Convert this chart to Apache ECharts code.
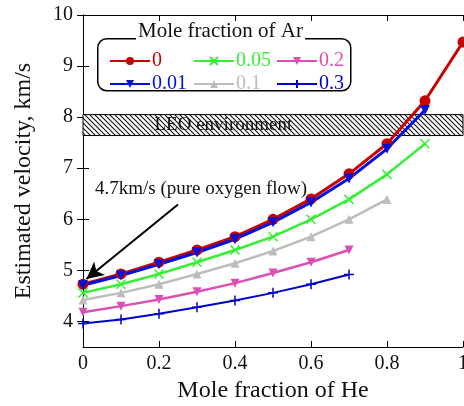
<!DOCTYPE html>
<html><head><meta charset="utf-8">
<script src="https://cdn.jsdelivr.net/npm/echarts@6/dist/echarts.min.js"></script>
<style>html,body{margin:0;padding:0;background:#fff}#c{width:464px;height:406px}</style>
</head><body><div id="c"></div>
<script>
// Data
var heFraction = [0, 0.1, 0.2, 0.3, 0.4, 0.5, 0.6, 0.7, 0.8, 0.9, 1.0];
var arNames = ['0', '0.01', '0.05', '0.1', '0.2', '0.3'];
var vAr0    = [4.73, 4.93, 5.16, 5.40, 5.66, 6.00, 6.40, 6.89, 7.48, 8.32, 9.47];
var vAr001  = [4.71, 4.90, 5.12, 5.35, 5.61, 5.94, 6.33, 6.80, 7.38, 8.14];
var vAr005  = [4.56, 4.73, 4.93, 5.16, 5.40, 5.66, 6.00, 6.39, 6.88, 7.48];
var vAr01   = [4.42, 4.56, 4.73, 4.93, 5.14, 5.38, 5.66, 6.00, 6.39];
var vAr02   = [4.18, 4.30, 4.43, 4.58, 4.75, 4.95, 5.16, 5.40];
var vAr03   = [3.96, 4.04, 4.15, 4.28, 4.41, 4.56, 4.73, 4.92];
var yTicks = [4, 5, 6, 7, 8, 9, 10];
var leoBand = [7.64, 8.05];
var arrowFrom = [0.25, 6.29];
var arrowTo = [0.009, 4.83];

var colors = ['#c80000', '#0010dd', '#33f033', '#bdbdbd', '#dd4fb4', '#0000d0'];
var symbols = ['circle', 'triangle', 'path://M0,0L10,10M10,0L0,10', 'triangle', 'triangle', 'path://M5,0L5,10M0,5L10,5'];
var rotates = [0, 180, 0, 0, 180, 0];
var sizes = [11, 10, 9, 9, 9, 10];
var widths = [3, 3, 2.5, 2.5, 2.5, 2];
var allVals = [vAr0, vAr001, vAr005, vAr01, vAr02, vAr03];

var FONT = '"Liberation Serif", "DejaVu Serif", serif';

// hatch pattern
var pc = document.createElement('canvas');
pc.width = 5; pc.height = 5;
var g = pc.getContext('2d');
g.fillStyle = '#fff'; g.fillRect(0, 0, 5, 5);
g.strokeStyle = '#111'; g.lineWidth = 1.1;
g.beginPath();
g.moveTo(-1, -1); g.lineTo(6, 6);
g.moveTo(-1, 4); g.lineTo(1, 6);
g.moveTo(4, -1); g.lineTo(6, 1);
g.stroke();

var series = arNames.map(function (n, i) {
  var s = {
    name: n, type: 'line',
    data: allVals[i].map(function (v, k) { return [heFraction[k], v]; }),
    symbol: symbols[i], symbolSize: sizes[i], symbolRotate: rotates[i],
    showAllSymbol: true,
    lineStyle: { color: colors[i], width: widths[i] },
    itemStyle: { color: colors[i], borderColor: colors[i], borderWidth: (i === 2 || i === 5) ? 1.5 : 0 },
    clip: false
  };
  if (i === 0) {
    s.markArea = {
      silent: true,
      itemStyle: { color: { image: pc, repeat: 'repeat' }, borderColor: '#000', borderWidth: 1 },
      label: { show: true, position: 'insideLeft', distance: 72, color: '#111', fontSize: 19, fontFamily: FONT },
      data: [[{ name: 'LEO environment', xAxis: 0, yAxis: leoBand[0] }, { xAxis: 1, yAxis: leoBand[1] }]]
    };
    s.markLine = {
      silent: true, animation: false,
      symbol: ['none', 'arrow'], symbolSize: [13, 17],
      lineStyle: { color: '#000', width: 2, type: 'solid' },
      label: { show: false },
      data: [[{ coord: arrowFrom }, { coord: arrowTo }]]
    };
  }
  return s;
});

function legendFor(names, left) {
  return {
    orient: 'vertical', left: left, top: 46,
    itemWidth: 40, itemHeight: 10, itemGap: 3,
    selectedMode: false,
    textStyle: { fontSize: 20, fontFamily: FONT, padding: [0, 0, 0, -3] },
    data: names.map(function (n) {
      return { name: n, textStyle: { color: colors[arNames.indexOf(n)] } };
    })
  };
}

var axisLineStyle = { lineStyle: { color: '#000', width: 1 } };
var chart = echarts.init(document.getElementById('c'), null, { renderer: 'canvas' });
chart.setOption({
  animation: false,
  backgroundColor: '#fff',
  grid: { left: 83, top: 15, width: 380, height: 332, containLabel: false, outerBoundsMode: 'none' },
  legend: [legendFor(['0', '0.01'], 104), legendFor(['0.05', '0.1'], 188), legendFor(['0.2', '0.3'], 271)],
  xAxis: [{
    type: 'value', min: 0, max: 1, interval: 0.2,
    name: 'Mole fraction of He', nameLocation: 'middle', nameGap: 31,
    nameTextStyle: { fontSize: 24, fontFamily: FONT, color: '#111' },
    axisLine: axisLineStyle, splitLine: { show: false },
    axisTick: { inside: true, length: 6, lineStyle: { color: '#000' } },
    axisLabel: { fontSize: 20, fontFamily: FONT, color: '#111', margin: 7, showMaxLabel: true }
  }, {
    type: 'value', position: 'top', min: 0, max: 1, interval: 0.2,
    axisLine: axisLineStyle, splitLine: { show: false },
    axisTick: { inside: true, length: 6, lineStyle: { color: '#000' } },
    axisLabel: { show: false }
  }],
  yAxis: [{
    type: 'value', min: 3.5, max: 10,
    name: 'Estimated velocity, km/s', nameLocation: 'middle', nameGap: 47,
    nameTextStyle: { fontSize: 24, fontFamily: FONT, color: '#111' },
    axisLine: { show: true, lineStyle: { color: '#000', width: 1 } }, splitLine: { show: false },
    axisTick: { inside: true, length: 6, customValues: yTicks, lineStyle: { color: '#000' } },
    axisLabel: { fontSize: 20, fontFamily: FONT, color: '#111', margin: 10, customValues: yTicks }
  }, {
    type: 'value', position: 'right', min: 3.5, max: 10,
    axisLine: { show: true, lineStyle: { color: '#000', width: 1 } }, splitLine: { show: false },
    axisTick: { inside: true, length: 6, customValues: yTicks, lineStyle: { color: '#000' } },
    axisLabel: { show: false }
  }],
  graphic: [
    { type: 'rect', left: 97, top: 38, z: 1, shape: { width: 253, height: 52, r: 9 },
      style: { fill: 'transparent', stroke: '#000', lineWidth: 1.5 } },
    { type: 'text', left: 136, top: 21, z: 2,
      style: { text: 'Mole fraction of Ar', font: '21px ' + FONT, fill: '#111', backgroundColor: '#fff', padding: [0, 2] } },
    { type: 'text', left: 95, top: 180, z: 2,
      style: { text: '4.7km/s (pure oxygen flow)', font: '19px ' + FONT, fill: '#111' } }
  ],
  series: series
});
</script>
</body></html>
